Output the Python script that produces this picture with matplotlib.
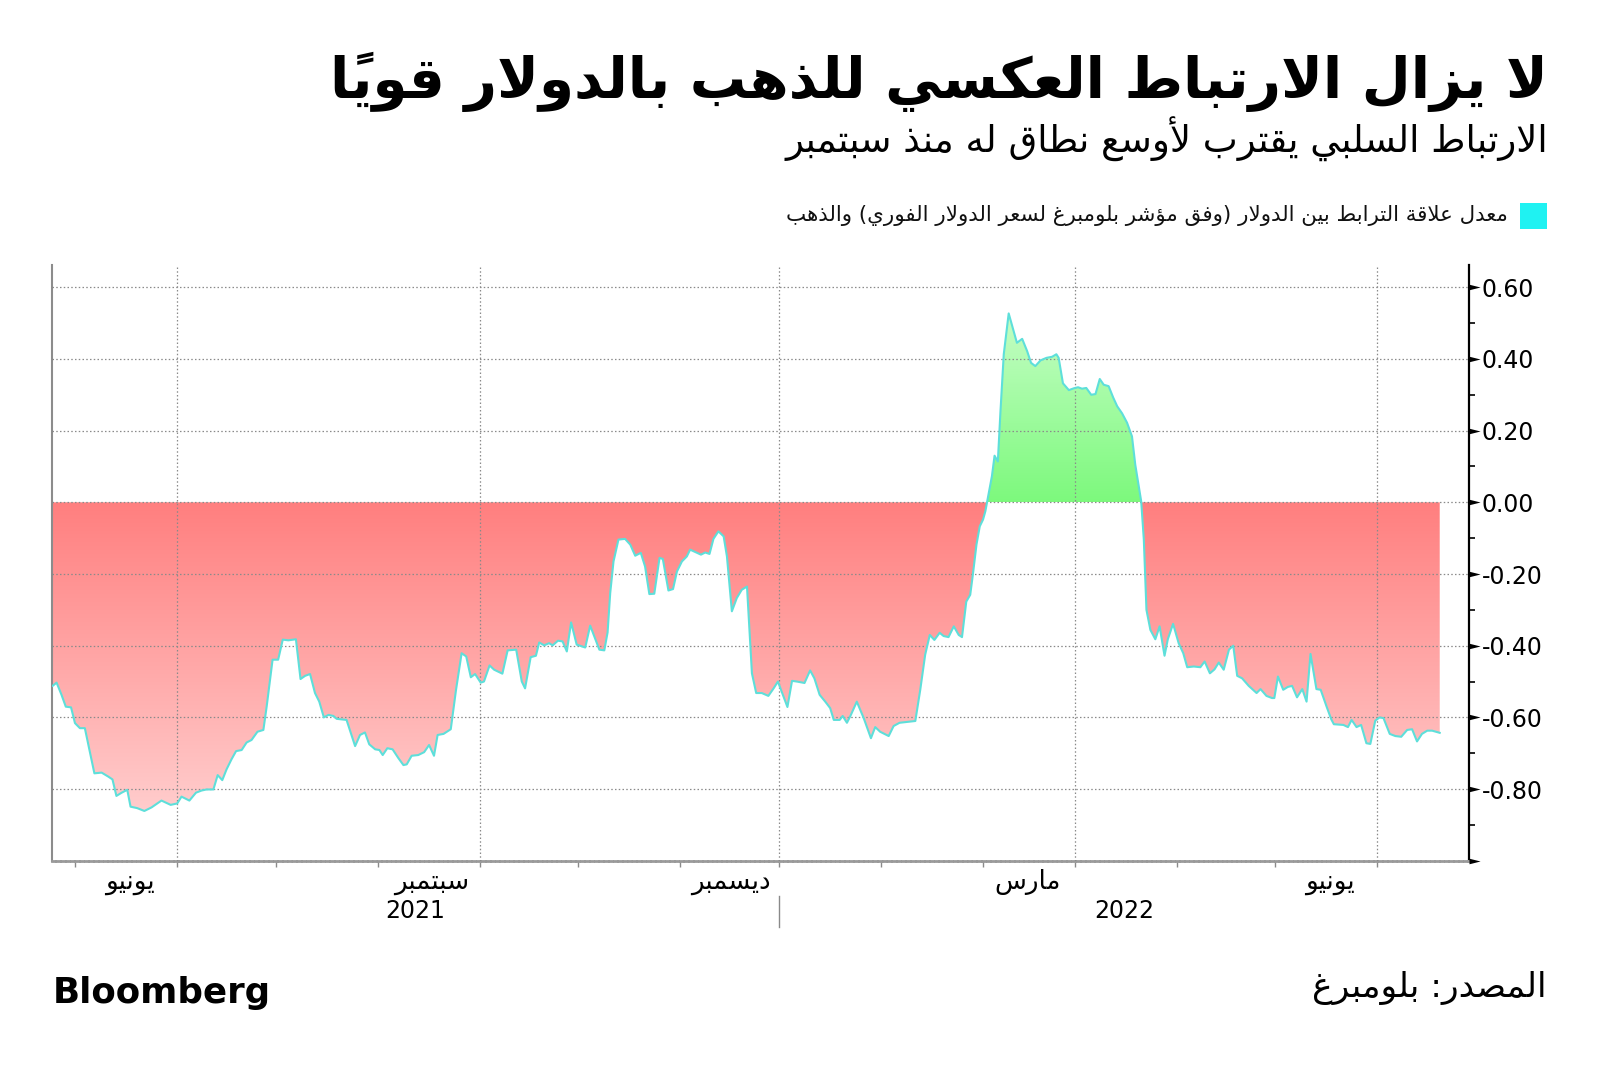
import numpy as np
import matplotlib
matplotlib.use("Agg")
import matplotlib.pyplot as plt
import matplotlib.dates as mdates
from matplotlib.colors import LinearSegmentedColormap
from matplotlib.path import Path
from matplotlib.patches import PathPatch, Rectangle
from matplotlib.transforms import blended_transform_factory

# ---------------------------------------------------------------- data
base_date = "2021-06-01"          # day_offsets are days after this date
day_offsets = [
    -37.9, -36.7, -35.2, -33.9, -32.3, -31.1, -29.6, -28.1, -25.2, -23.0,
    -21.0, -19.7, -18.5, -16.9, -15.2, -14.2, -12.2, -10.0, -7.8, -4.8,
    -2.0, 0.0, 1.3, 3.7, 5.7, 7.4, 8.9, 11.0, 12.3, 13.7,
    15.0, 16.5, 17.9, 19.6, 21.1, 22.6, 24.4, 26.2, 27.2, 29.0,
    30.7, 32.1, 33.8, 36.1, 37.5, 38.9, 40.4, 41.9, 43.2, 44.6,
    46.0, 47.5, 48.5, 51.5, 54.1, 55.6, 57.1, 58.4, 60.2, 61.5,
    62.5, 63.9, 65.5, 67.3, 68.8, 69.8, 71.3, 73.3, 75.1, 76.6,
    78.1, 79.2, 81.0, 83.2, 84.8, 86.5, 87.9, 89.3, 90.6, 92.3,
    93.3, 95.0, 96.4, 98.9, 100.5, 103.1, 104.8, 105.8, 107.5, 109.1,
    110.1, 111.6, 113.1, 114.2, 115.8, 117.2, 118.5, 119.8, 121.5, 124.1,
    125.6, 128.4, 129.9, 130.9, 131.7, 132.7, 134.2, 136.2, 137.8, 139.3,
    141.0, 142.3, 143.6, 145.1, 146.7, 147.7, 149.4, 150.8, 152.0, 153.5,
    155.0, 156.0, 157.9, 159.3, 160.6, 161.9, 163.1, 164.6, 166.2, 167.2,
    168.7, 170.2, 171.7, 173.3, 174.8, 176.1, 177.8, 179.8, 181.4, 182.7,
    184.4, 185.6, 187.0, 188.5, 190.8, 192.5, 193.8, 195.4, 197.1, 198.6,
    199.7, 201.5, 202.4, 203.7, 204.9, 206.7, 208.8, 211.0, 212.3, 213.8,
    216.4, 217.9, 219.7, 224.5, 226.0, 227.5, 228.9, 230.3, 231.9, 233.1,
    234.6, 236.2, 237.7, 238.7, 240.0, 241.2, 242.0, 243.1, 244.1, 245.1,
    245.8, 246.5, 247.8, 248.6, 249.6, 250.4, 251.4, 252.9, 254.2, 255.4,
    257.0, 258.5, 259.7, 261.0, 262.6, 264.4, 266.1, 267.4, 268.1, 269.4,
    271.2, 272.7, 274.0, 275.2, 276.5, 278.0, 279.3, 280.6, 281.8, 283.3,
    284.7, 285.9, 287.4, 288.9, 290.4, 291.4, 292.5, 293.2, 294.0, 294.8,
    296.0, 297.5, 298.8, 300.3, 301.3, 302.9, 304.6, 306.0, 307.2, 309.2,
    311.2, 312.5, 314.1, 315.5, 316.8, 318.3, 319.9, 321.2, 322.4, 323.9,
    325.9, 328.3, 329.5, 331.3, 333.0, 333.7, 334.8, 336.4, 337.8, 339.1,
    340.6, 342.2, 343.5, 344.7, 346.5, 347.8, 349.6, 351.0, 351.8, 354.7,
    356.1, 357.2, 358.7, 360.1, 361.7, 362.9, 364.4, 365.7, 366.9, 368.8,
    370.5, 372.3, 374.1, 375.6, 377.1, 378.6, 380.2, 381.7, 384.0,
]
correlation = [
    -0.512, -0.503, -0.537, -0.570, -0.572, -0.616, -0.630, -0.630, -0.756, -0.754,
    -0.765, -0.773, -0.819, -0.810, -0.802, -0.849, -0.853, -0.861, -0.851, -0.832,
    -0.844, -0.840, -0.821, -0.832, -0.810, -0.804, -0.801, -0.801, -0.761, -0.775,
    -0.745, -0.717, -0.694, -0.691, -0.670, -0.663, -0.640, -0.635, -0.570, -0.439,
    -0.439, -0.383, -0.385, -0.382, -0.493, -0.484, -0.479, -0.532, -0.556, -0.600,
    -0.593, -0.596, -0.604, -0.607, -0.680, -0.649, -0.642, -0.675, -0.689, -0.691,
    -0.705, -0.686, -0.689, -0.714, -0.733, -0.731, -0.707, -0.705, -0.697, -0.677,
    -0.707, -0.649, -0.646, -0.633, -0.523, -0.421, -0.430, -0.488, -0.479, -0.503,
    -0.500, -0.455, -0.467, -0.478, -0.413, -0.411, -0.500, -0.519, -0.432, -0.428,
    -0.391, -0.399, -0.393, -0.399, -0.386, -0.388, -0.416, -0.335, -0.397, -0.405,
    -0.344, -0.411, -0.413, -0.363, -0.253, -0.165, -0.104, -0.102, -0.118, -0.149,
    -0.141, -0.179, -0.256, -0.255, -0.155, -0.158, -0.246, -0.242, -0.193, -0.165,
    -0.151, -0.132, -0.140, -0.146, -0.140, -0.144, -0.102, -0.081, -0.095, -0.151,
    -0.304, -0.267, -0.244, -0.235, -0.477, -0.532, -0.532, -0.540, -0.519, -0.500,
    -0.542, -0.571, -0.498, -0.500, -0.504, -0.469, -0.491, -0.537, -0.556, -0.574,
    -0.607, -0.607, -0.596, -0.615, -0.593, -0.556, -0.602, -0.658, -0.627, -0.640,
    -0.652, -0.624, -0.615, -0.610, -0.523, -0.425, -0.370, -0.384, -0.364, -0.373,
    -0.376, -0.346, -0.370, -0.376, -0.277, -0.258, -0.202, -0.118, -0.067, -0.048,
    -0.025, 0.009, 0.073, 0.130, 0.114, 0.254, 0.413, 0.527, 0.484, 0.445,
    0.456, 0.422, 0.389, 0.380, 0.396, 0.403, 0.406, 0.413, 0.403, 0.332,
    0.313, 0.318, 0.321, 0.317, 0.319, 0.300, 0.302, 0.344, 0.328, 0.324,
    0.292, 0.268, 0.248, 0.222, 0.184, 0.105, 0.043, 0.003, -0.104, -0.300,
    -0.356, -0.382, -0.346, -0.428, -0.382, -0.339, -0.393, -0.421, -0.460, -0.458,
    -0.460, -0.444, -0.477, -0.466, -0.447, -0.467, -0.411, -0.400, -0.484, -0.491,
    -0.512, -0.532, -0.521, -0.540, -0.546, -0.546, -0.486, -0.523, -0.515, -0.512,
    -0.544, -0.521, -0.556, -0.423, -0.521, -0.523, -0.570, -0.605, -0.619, -0.621,
    -0.627, -0.607, -0.627, -0.621, -0.672, -0.674, -0.609, -0.600, -0.602, -0.646,
    -0.652, -0.654, -0.635, -0.633, -0.667, -0.646, -0.637, -0.637, -0.643,
]

ytick_values = [0.6, 0.4, 0.2, 0.0, -0.2, -0.4, -0.6, -0.8]
ytick_labels = ["0.60", "0.40", "0.20", "0.00", "-0.20", "-0.40", "-0.60", "-0.80"]
month_label_dates = ["2021-06-01", "2021-09-01", "2021-12-01", "2022-03-01", "2022-06-01"]
month_labels = ["يونيو", "سبتمبر", "ديسمبر", "مارس", "يونيو"]
year_labels = ["2021", "2022"]
year_split_date = "2021-12-01"
x_start, x_end = "2021-04-24", "2022-06-29"

title = "لا يزال الارتباط العكسي للذهب بالدولار قوياً"
subtitle = "الارتباط السلبي يقترب لأوسع نطاق له منذ سبتمبر"
legend_label = "معدل علاقة الترابط بين الدولار (وفق مؤشر بلومبرغ لسعر الدولار الفوري) والذهب"
source = "المصدر: بلومبرغ"
brand = "Bloomberg"

# ------------------------------------------------- minimal Arabic shaping
_TABLE = [
    (0x0621, 0xFE80, 'U'), (0x0622, 0xFE81, 'R'), (0x0623, 0xFE83, 'R'), (0x0624, 0xFE85, 'R'),
    (0x0625, 0xFE87, 'R'), (0x0626, 0xFE89, 'D'), (0x0627, 0xFE8D, 'R'), (0x0628, 0xFE8F, 'D'),
    (0x0629, 0xFE93, 'R'), (0x062A, 0xFE95, 'D'), (0x062B, 0xFE99, 'D'), (0x062C, 0xFE9D, 'D'),
    (0x062D, 0xFEA1, 'D'), (0x062E, 0xFEA5, 'D'), (0x062F, 0xFEA9, 'R'), (0x0630, 0xFEAB, 'R'),
    (0x0631, 0xFEAD, 'R'), (0x0632, 0xFEAF, 'R'), (0x0633, 0xFEB1, 'D'), (0x0634, 0xFEB5, 'D'),
    (0x0635, 0xFEB9, 'D'), (0x0636, 0xFEBD, 'D'), (0x0637, 0xFEC1, 'D'), (0x0638, 0xFEC5, 'D'),
    (0x0639, 0xFEC9, 'D'), (0x063A, 0xFECD, 'D'), (0x0641, 0xFED1, 'D'), (0x0642, 0xFED5, 'D'),
    (0x0643, 0xFED9, 'D'), (0x0644, 0xFEDD, 'D'), (0x0645, 0xFEE1, 'D'), (0x0646, 0xFEE5, 'D'),
    (0x0647, 0xFEE9, 'D'), (0x0648, 0xFEED, 'R'), (0x0649, 0xFEEF, 'R'), (0x064A, 0xFEF1, 'D'),
]
_TAB = {c: (s, t) for c, s, t in _TABLE}
_LAMALEF = {0x0622: 0xFEF5, 0x0623: 0xFEF7, 0x0625: 0xFEF9, 0x0627: 0xFEFB}
_MIRROR = {'(': ')', ')': '('}


def _is_mark(c):
    o = ord(c)
    return 0x064B <= o <= 0x065F or o == 0x0670


def shape_ar(text):
    units = []
    i = 0
    n = len(text)
    while i < n:
        c = text[i]
        if _is_mark(c) and units:
            units[-1][1] += c
            i += 1
            continue
        cp = ord(c)
        if cp == 0x0644:
            j = i + 1
            marks = ''
            while j < n and _is_mark(text[j]):
                marks += text[j]
                j += 1
            if j < n and ord(text[j]) in _LAMALEF:
                st = _LAMALEF[ord(text[j])]
                units.append([None, marks, 'R', (chr(st), chr(st + 1))])
                i = j + 1
                continue
        if cp in _TAB:
            st, typ = _TAB[cp]
            if typ == 'D':
                forms = tuple(chr(st + k) for k in range(4))
            elif typ == 'R':
                forms = (chr(st), chr(st + 1))
            else:
                forms = (chr(st),)
            units.append([c, '', typ, forms])
        else:
            units.append([c, '', 'N', None])
        i += 1
    out = []
    for k, (base, marks, typ, forms) in enumerate(units):
        if forms is None:
            out.append(_MIRROR.get(base, base) + marks)
            continue
        pj = k > 0 and units[k - 1][2] == 'D'
        nj = typ == 'D' and k + 1 < len(units) and units[k + 1][2] in ('D', 'R')
        if typ == 'D':
            idx = 3 if (pj and nj) else (1 if pj else (2 if nj else 0))
        elif typ == 'R':
            idx = 1 if pj else 0
        else:
            idx = 0
        out.append(forms[idx] + marks)
    return ''.join(reversed(out))


# ---------------------------------------------------------------- figure
plt.rcParams['font.family'] = ['DejaVu Sans']
W, H = 1600, 1068
fig = plt.figure(figsize=(W / 100, H / 100), dpi=100, facecolor='white')
renderer = fig.canvas.get_renderer()


def fx(px):
    return px / W


def fy(py):
    return 1 - py / H


AX_L, AX_R, AX_T, AX_B = 52.3, 1469.3, 265.0, 860.8
ax = fig.add_axes([fx(AX_L), fy(AX_B), (AX_R - AX_L) / W, (AX_B - AX_T) / H])

base_num = mdates.date2num(np.datetime64(base_date))
x = base_num + np.array(day_offsets)
y = np.array(correlation)

YMIN, YMAX = -1.0, 0.662
xmin = mdates.date2num(np.datetime64(x_start))
xmax = mdates.date2num(np.datetime64(x_end))


def gradient_fill(mask, c_bottom, c_top, v_bottom, v_top):
    coll = ax.fill_between(x, y, 0, where=mask, interpolate=True,
                           facecolor='none', edgecolor='none')
    comp = Path.make_compound_path(*coll.get_paths())
    patch = PathPatch(comp, transform=ax.transData, facecolor='none', edgecolor='none')
    ax.add_patch(patch)
    cmap = LinearSegmentedColormap.from_list('g', [c_bottom, c_top])
    grad = np.linspace(0, 1, 256).reshape(-1, 1)
    im = ax.imshow(grad, extent=[xmin, xmax, v_bottom, v_top], origin='lower',
                   aspect='auto', cmap=cmap, zorder=1, interpolation='bilinear')
    im.set_clip_path(patch)


gradient_fill(y <= 0, '#FFD9D9', '#FF7F7F', YMIN, 0.0)
gradient_fill(y >= 0, '#7DF97D', '#D8FFD8', 0.0, YMAX)

ax.plot(x, y, color='#5EDFDA', lw=1.5, zorder=4, solid_joinstyle='round')

ax.set_xlim(xmin, xmax)
ax.set_ylim(YMIN, YMAX)

# grid
grid_kw = dict(color='#8a8a8a', lw=0.9, ls=(0, (1.2, 1.8)), zorder=3)
for v in ytick_values:
    ax.axhline(v, **grid_kw)
label_nums = [mdates.date2num(np.datetime64(d)) for d in month_label_dates]
for d in label_nums:
    ax.axvline(d, **grid_kw)

# spines
ax.spines['top'].set_visible(False)
ax.spines['left'].set_color('#8c8c8c')
ax.spines['left'].set_linewidth(1.5)
ax.spines['right'].set_color('black')
ax.spines['right'].set_linewidth(1.6)
ax.spines['bottom'].set_color('#9a9a9a')
ax.spines['bottom'].set_linewidth(2.0)
ax.spines['bottom'].set_linestyle((0, (1, 0.7)))

# y axis on the right
ax.yaxis.tick_right()
ax.set_yticks(ytick_values)
ax.set_yticklabels(ytick_labels, fontsize=17, color='black')
ax.tick_params(axis='y', which='major', length=0, pad=9, left=False, right=True)
ax.set_yticks([0.5, 0.3, 0.1, -0.1, -0.3, -0.5, -0.7, -0.9], minor=True)
ax.tick_params(axis='y', which='minor', length=4, width=1.2, color='black',
               direction='out', left=False, right=True)
tri = [(0, -0.25), (1, 0), (0, 0.25), (0, -0.25)]
ytr = blended_transform_factory(ax.transAxes, ax.transData)
ax.plot([1.0] * (len(ytick_values) + 1), ytick_values + [YMIN], transform=ytr,
        ls='none', marker=tri, ms=16, mew=0, color='black', clip_on=False, zorder=6)

# x axis monthly ticks
month_ticks = [mdates.date2num(np.datetime64(f"{yy}-{mm:02d}-01"))
               for yy, mm in [(2021, m) for m in range(5, 13)] + [(2022, m) for m in range(1, 7)]]
ax.set_xticks(month_ticks)
ax.set_xticklabels([''] * len(month_ticks))
ax.tick_params(axis='x', which='major', length=4, width=1, color='#8a8a8a', direction='out')

xtr = blended_transform_factory(ax.transData, ax.transAxes)
ax_h = AX_B - AX_T


def ax_y(py):
    return (AX_B - py) / ax_h


# month labels
probe = fig.text(0, 0, shape_ar("سبتمبر"), fontsize=20)
pw = probe.get_window_extent(renderer=renderer).width
probe.remove()
month_fs = 20 * 75 / pw
for d, lab in zip(label_nums, month_labels):
    ax.text(d - 14.5, ax_y(882), shape_ar(lab), transform=xtr, ha='center', va='center',
            fontsize=month_fs, color='black', clip_on=False)

# year labels and separator
split = mdates.date2num(np.datetime64(year_split_date))
ax.text((xmin + split) / 2, ax_y(911), year_labels[0], transform=xtr, ha='center',
        va='center', fontsize=17, color='black')
ax.text((split + xmax) / 2, ax_y(911), year_labels[1], transform=xtr, ha='center',
        va='center', fontsize=17, color='black')
ax.plot([split, split], [ax_y(896), ax_y(927)], transform=xtr, color='#8a8a8a', lw=1,
        clip_on=False)


# texts outside the axes
def fit_text(xpx, ypx, s, width_px, ha='right', va='baseline', **kw):
    t = fig.text(fx(xpx), fy(ypx), s, ha=ha, va=va, fontsize=20, **kw)
    w = t.get_window_extent(renderer=renderer).width
    t.set_fontsize(20 * width_px / w)
    return t


fit_text(1548, 98, shape_ar(title), 1216, fontweight='bold', color='black')
fit_text(1548, 153, shape_ar(subtitle), 764, color='black')
fit_text(1508, 216, shape_ar(legend_label), 724, va='center', color='#111111')
fig.patches.append(Rectangle((fx(1520), fy(229)), (1547 - 1520) / W, (229 - 203) / H,
                             transform=fig.transFigure, facecolor='#1FF2F2',
                             edgecolor='none', figure=fig))
fit_text(1547, 988, shape_ar(source), 235, va='center', color='black')
fit_text(53, 1003, brand, 218, ha='left', fontweight='bold', color='black')

fig.savefig('out.png', dpi=100, facecolor='white')
